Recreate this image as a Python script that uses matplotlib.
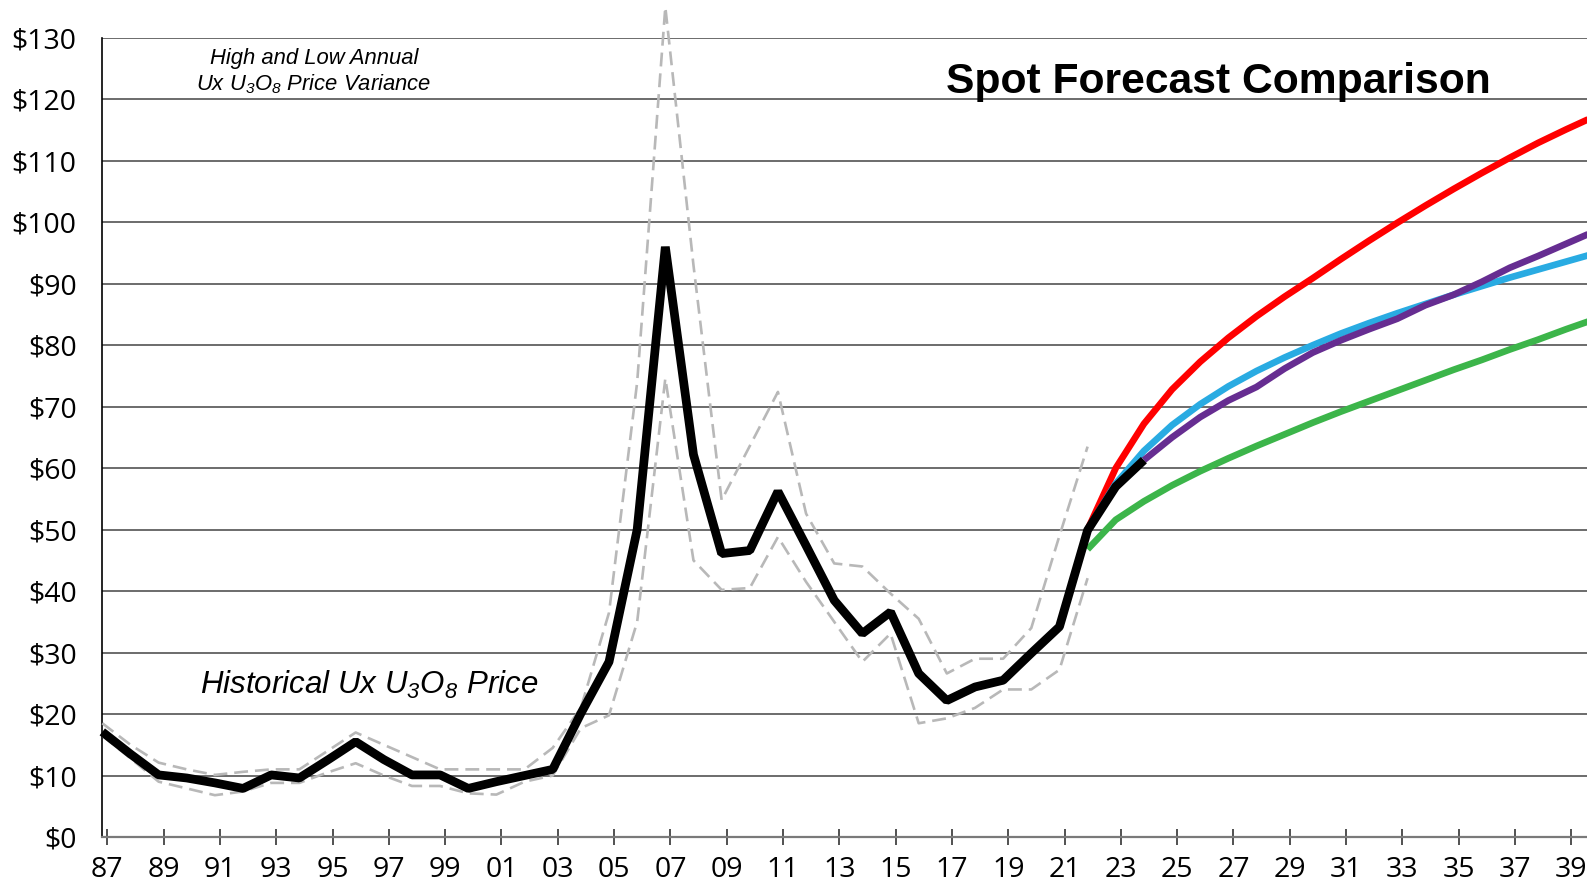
import numpy as np
import matplotlib
matplotlib.use("Agg")
import matplotlib.pyplot as plt

plt.rcParams["mathtext.default"] = "regular"

# ---- data ----
hist_years = list(range(1987, 2025))
hist_price = [17.1, 13.5, 10.1, 9.6, 8.8, 7.9, 10.1, 9.6, 12.5, 15.5,
              12.6, 10.1, 10.1, 7.9, 9.0, 10.0, 11.0, 20.1, 28.5, 50.0,
              96.0, 62.2, 46.1, 46.6, 56.2, 47.4, 38.5, 33.1, 36.6, 26.6,
              22.2, 24.4, 25.5, 29.9, 34.2, 49.9, 57.0, 61.3]

band_years = list(range(1987, 2023))
high_price = [18.5, 15.0, 12.1, 11.0, 10.1, 10.6, 11.0, 11.0, 14.0, 17.0,
              15.0, 13.0, 11.0, 11.0, 11.0, 11.0, 14.5, 21.0, 36.5, 74.0,
              135.0, 93.0, 54.8, 63.6, 72.4, 52.6, 44.5, 44.0, 39.6, 35.5,
              26.6, 29.0, 29.0, 34.0, 49.0, 63.5]
low_price = [16.5, 12.8, 9.0, 7.9, 6.8, 7.4, 8.8, 8.8, 10.5, 12.0,
             10.0, 8.3, 8.3, 7.1, 6.9, 9.0, 10.0, 17.7, 19.8, 35.0,
             74.6, 45.0, 40.2, 40.5, 48.8, 41.5, 35.0, 28.5, 33.1, 18.5,
             19.3, 21.0, 24.0, 24.0, 27.2, 42.1]

fc_years = list(range(2022, 2041))
fc_red = [50.0, 60.0, 67.2, 72.8, 77.3, 81.2, 84.7, 87.9, 90.9, 94.0,
          97.0, 99.9, 102.7, 105.4, 108.0, 110.5, 112.9, 115.1, 117.2]
fc_blue = [50.0, 57.5, 62.8, 67.0, 70.4, 73.3, 75.8, 78.0, 80.0, 81.9,
           83.6, 85.2, 86.7, 88.2, 89.6, 91.0, 92.3, 93.6, 94.9]
fc_green = [46.8, 51.6, 54.6, 57.2, 59.5, 61.6, 63.6, 65.5, 67.4, 69.2,
            70.9, 72.6, 74.3, 76.0, 77.6, 79.3, 80.9, 82.6, 84.2]
purple_years = list(range(2024, 2041))
fc_purple = [61.3, 65.0, 68.3, 71.0, 73.2, 76.2, 78.8, 80.8, 82.6, 84.3,
             86.5, 88.2, 90.3, 92.6, 94.5, 96.5, 98.5]

tick_years = list(range(1987, 2040, 2))
tick_labels = [f"{y % 100:02d}" for y in tick_years]
y_ticks = list(range(0, 131, 10))
y_labels = [f"${v}" for v in y_ticks]

# ---- figure ----
W, H = 1587, 885
fig = plt.figure(figsize=(W / 100, H / 100), dpi=100, facecolor="white")
ax = fig.add_axes([102.3 / W, 48 / H, 1 - 102.3 / W, 799.2 / H])

dash = (0, (10.0 / 1.9, 5.0 / 1.9))
ax.plot(band_years, high_price, color="#b8b8b8", lw=1.9, ls=dash, clip_on=False, zorder=3)
ax.plot(band_years, low_price, color="#b8b8b8", lw=1.9, ls=dash, clip_on=False, zorder=3)

fc_kw = dict(lw=4.8, clip_on=False, solid_capstyle="butt")
ax.plot(fc_years, fc_green, color="#3cb54a", zorder=4, **fc_kw)
ax.plot(fc_years, fc_red, color="#ff0000", zorder=5, **fc_kw)
ax.plot(fc_years, fc_blue, color="#29abe2", zorder=6, **fc_kw)
ax.plot(purple_years, fc_purple, color="#662d91", zorder=7, **fc_kw)
ax.plot(hist_years, hist_price, color="black", lw=6.3, zorder=8, clip_on=False,
        solid_joinstyle="bevel", solid_capstyle="butt")

ax.set_xlim(1987, 2039.74)
ax.set_ylim(0, 130)

# ticks sit a little to the right of the data points in the original
ax.set_xticks(np.array(tick_years) + 0.18)
ax.set_xticklabels(tick_labels)
ax.set_yticks(y_ticks)
ax.set_yticklabels(y_labels)

ax.yaxis.grid(True, color="#444444", lw=1.1)
ax.set_axisbelow(True)
for s in ("top", "right"):
    ax.spines[s].set_visible(False)
ax.spines["left"].set_color("black")
ax.spines["left"].set_linewidth(1.2)
ax.spines["bottom"].set_color("#7a7a7a")
ax.spines["bottom"].set_linewidth(1.6)

ax.tick_params(axis="y", length=0, pad=18.5)
ax.tick_params(axis="x", direction="inout", length=12, width=1.2, color="#333333", pad=8)
for lab in ax.get_xticklabels() + ax.get_yticklabels():
    lab.set_fontfamily("Open Sans")
    lab.set_fontsize(20.5)
    lab.set_color("black")

# ---- annotations ----
def fxy(px, py):
    return px / W, 1 - py / H

fig.text(*fxy(314, 64), "High and Low Annual", ha="center", va="baseline",
         fontsize=15.8, style="italic", family="Liberation Sans")
fig.text(*fxy(314, 90), "Ux U$_{3}$O$_{8}$ Price Variance", ha="center", va="baseline",
         fontsize=15.8, style="italic", family="Liberation Sans")
fig.text(*fxy(1218, 93), "Spot Forecast Comparison", ha="center", va="baseline",
         fontsize=30.7, weight="bold", family="Liberation Sans")
fig.text(*fxy(369, 694), "Historical Ux U$_{3}$O$_{8}$ Price", ha="center", va="baseline",
         fontsize=22.5, style="italic", family="Liberation Sans")

fig.savefig("out.png", dpi=100, facecolor="white")
